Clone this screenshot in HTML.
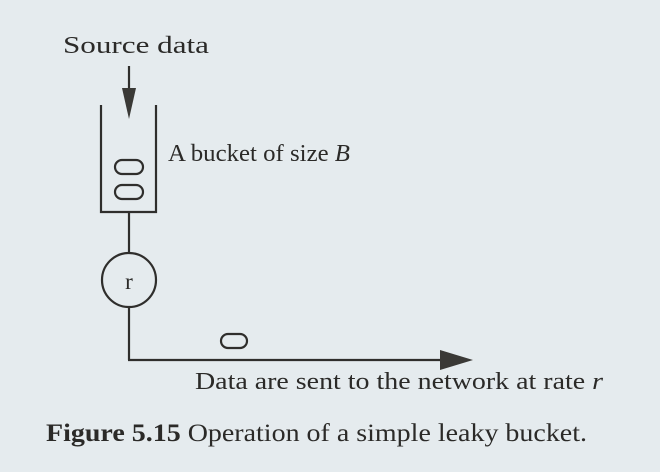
<!DOCTYPE html>
<html><head><meta charset="utf-8"><style>
html,body{margin:0;padding:0;background:#e5ebee;}
svg{display:block}
text{font-family:"Liberation Serif",serif;fill:#2b2a28;}
</style></head><body>
<svg width="660" height="472" viewBox="0 0 660 472" xmlns="http://www.w3.org/2000/svg">
<rect width="660" height="472" fill="#e5ebee"/>
<g stroke="#2f2e2c" stroke-width="2.2" fill="none">
<polyline points="101,105 101,212 156,212 156,105"/>
<line x1="129" y1="66" x2="129" y2="92"/>
<line x1="129" y1="212" x2="129" y2="253"/>
<circle cx="129" cy="280" r="27"/>
<line x1="129" y1="307" x2="129" y2="360"/>
<line x1="128" y1="360" x2="442" y2="360"/>
<rect x="115" y="160" width="28" height="14" rx="7"/>
<rect x="115" y="185" width="28" height="14" rx="7"/>
<rect x="221" y="334" width="26" height="14" rx="7"/>
</g>
<polygon points="122,88 136,88 129,119" fill="#3a3936"/>
<polygon points="440,350 473,360 440,370" fill="#3a3936"/>
<text x="63" y="53" font-size="24" textLength="146" lengthAdjust="spacingAndGlyphs">Source data</text>
<text x="168" y="161" font-size="24" textLength="182" lengthAdjust="spacingAndGlyphs">A bucket of size <tspan font-style="italic">B</tspan></text>
<text x="129" y="289" font-size="23" text-anchor="middle">r</text>
<text x="195" y="389" font-size="24" textLength="408" lengthAdjust="spacingAndGlyphs">Data are sent to the network at rate <tspan font-style="italic">r</tspan></text>
<text x="46" y="441" font-size="25" textLength="541" lengthAdjust="spacingAndGlyphs"><tspan font-weight="bold">Figure 5.15</tspan> Operation of a simple leaky bucket.</text>
</svg>
</body></html>
